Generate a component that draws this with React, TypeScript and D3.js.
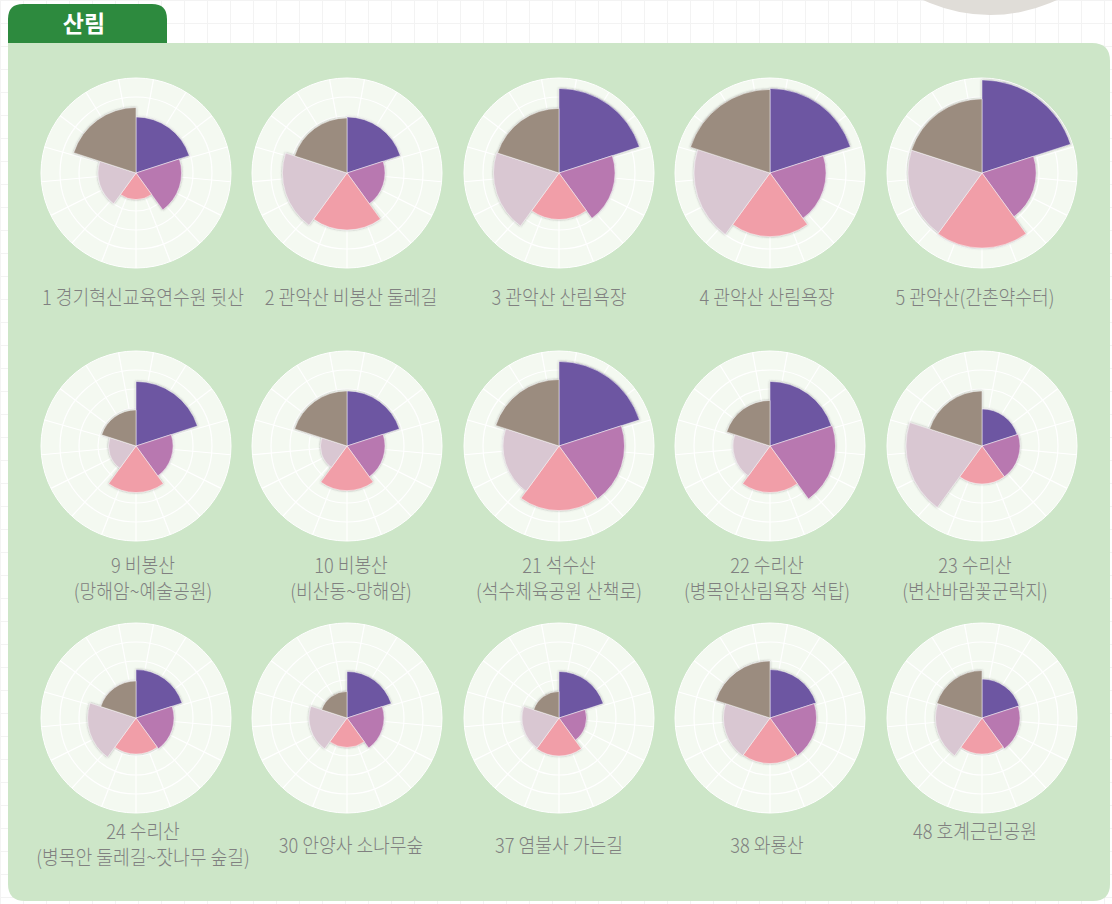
import React from "react";
import * as d3 from "d3";

// ---- data ----
const labelLine1 = [
  "1 경기혁신교육연수원 뒷산",
  "2 관악산 비봉산 둘레길",
  "3 관악산 산림욕장",
  "4 관악산 산림욕장",
  "5 관악산(간촌약수터)",
  "9 비봉산",
  "10 비봉산",
  "21 석수산",
  "22 수리산",
  "23 수리산",
  "24 수리산",
  "30 안양사 소나무숲",
  "37 염불사 가는길",
  "38 와룡산",
  "48 호계근린공원",
];
const labelLine2 = [
  "", "", "", "", "",
  "(망해암~예술공원)",
  "(비산동~망해암)",
  "(석수체육공원 산책로)",
  "(병목안산림욕장 석탑)",
  "(변산바람꽃군락지)",
  "(병목안 둘레길~잣나무 숲길)",
  "", "", "", "",
];
const purpleValues = [59, 59, 89, 89, 98, 68, 58, 89, 68, 39, 51, 49, 49, 51, 41];
const magentaValues = [48, 40, 59, 59, 57, 39, 40, 69, 69, 40, 40, 39, 29, 49, 40];
const pinkValues = [28, 60, 49, 67, 79, 49, 47, 68, 49, 40, 38, 31, 40, 48, 38];
const mauveValues = [40, 68, 69, 80, 78, 29, 28, 59, 39, 80, 51, 40, 39, 49, 49];
const taupeValues = [69, 58, 68, 88, 78, 38, 58, 70, 48, 58, 39, 28, 28, 60, 50];
const seriesColors = ["#6d56a2", "#b878b0", "#f19ea8", "#d9c7d2", "#9b8c7f"];
const titleText = "산림";

// ---- layout ----
const W = 1112;
const H = 904;
const colX = [136, 347, 559, 770, 982];
const labelX = [143, 351, 559, 767, 975];
const rowY = [173, 446, 718];
const R = 95;
const rowLabelY = [298, 566, 832];
const FONT = "'Noto Sans CJK KR', 'Noto Sans', sans-serif";

const rScale = d3.scaleLinear().domain([0, 100]).range([0, R]);
const ringTicks = [20, 40, 60, 80, 100];
const spokeCount = 17;

function PolarChart({ idx }: { idx: number }) {
  const cx = colX[idx % 5];
  const cy = rowY[Math.floor(idx / 5)];
  const vals = [purpleValues[idx], magentaValues[idx], pinkValues[idx], mauveValues[idx], taupeValues[idx]];
  const step = (2 * Math.PI) / vals.length;
  const arc = d3.arc<any>();
  const spokes = d3.range(spokeCount).map((k) => Math.PI + (k * 2 * Math.PI) / spokeCount);
  return (
    <g transform={`translate(${cx},${cy})`}>
      <circle r={R} fill="#f4f9f1" />
      {ringTicks.slice(0, -1).map((t) => (
        <circle key={t} r={rScale(t)} fill="none" stroke="#ffffff" strokeWidth={1.2} />
      ))}
      {spokes.map((a, k) => (
        <line
          key={k}
          x1={0}
          y1={0}
          x2={R * Math.sin(a)}
          y2={-R * Math.cos(a)}
          stroke="#ffffff"
          strokeWidth={1.2}
        />
      ))}
      <circle r={R} fill="none" stroke="#ffffff" strokeWidth={1} />
      <g filter="url(#secShadow)">
        {vals.map((v, i) => (
          <path
            key={i}
            d={arc({ innerRadius: 0, outerRadius: rScale(v), startAngle: i * step, endAngle: (i + 1) * step }) || ""}
            fill={seriesColors[i]}
            stroke="#ffffff"
            strokeOpacity={0.6}
            strokeWidth={0.8}
          />
        ))}
      </g>
    </g>
  );
}

function Label({ idx }: { idx: number }) {
  const row = Math.floor(idx / 5);
  const cx = labelX[idx % 5];
  const l2 = labelLine2[idx];
  let y = rowLabelY[row];
  if (row === 2 && !l2 && idx !== 14) y += 14;
  const lines = l2 ? [labelLine1[idx], l2] : [labelLine1[idx]];
  return (
    <g transform={`translate(${cx},0)`}>
      {lines.map((t, i) => (
        <text
          key={i}
          transform={`translate(0,${y + i * 26 + 7}) scale(0.91,1)`}
          textAnchor="middle"
          fontFamily={FONT}
          fontSize={20}
          fontWeight={300}
          fill="#808080"
        >
          {t}
        </text>
      ))}
    </g>
  );
}

export default function App() {
  const gridX = d3.range(0, W, 23);
  const gridY = d3.range(0, H, 23);
  return (
    <svg
      width={W}
      height={H}
      style={{ position: "absolute", left: 0, top: 0, background: "#ffffff" }}
    >
      <defs>
        <filter id="secShadow" x="-20%" y="-20%" width="140%" height="140%">
          <feDropShadow dx="0" dy="0" stdDeviation="1.2" floodColor="#555" floodOpacity="0.55" />
        </filter>
      </defs>
      {gridX.map((x) => (
        <line key={"gx" + x} x1={x + 0.5} x2={x + 0.5} y1={0} y2={H} stroke="#f3f3f3" strokeWidth={1} />
      ))}
      {gridY.map((y) => (
        <line key={"gy" + y} x1={0} x2={W} y1={y + 0.5} y2={y + 0.5} stroke="#f3f3f3" strokeWidth={1} />
      ))}
      <circle cx={990} cy={-142} r={157} fill="#e0ddd8" />
      {/* panel */}
      <path
        d={`M8,43 H1092 Q1110,43 1110,61 V884 Q1110,901 1093,901 H25 Q8,901 8,884 Z`}
        fill="#cde6c8"
      />
      {/* tab */}
      <path d={`M8,43 V19 Q8,4 23,4 H152 Q167,4 167,19 V43 Z`} fill="#2d8a3e" />
      <text
        x={84}
        y={32}
        textAnchor="middle"
        fontFamily={FONT}
        fontSize={23}
        fontWeight={700}
        fill="#ffffff"
      >
        {titleText}
      </text>
      {labelLine1.map((_, i) => (
        <PolarChart key={"c" + i} idx={i} />
      ))}
      {labelLine1.map((_, i) => (
        <Label key={"l" + i} idx={i} />
      ))}
    </svg>
  );
}
